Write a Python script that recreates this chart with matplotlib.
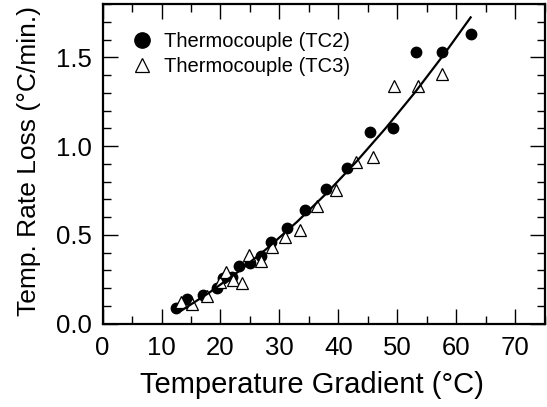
import numpy as np
import matplotlib
matplotlib.use('Agg')
import matplotlib.pyplot as plt
from matplotlib.ticker import MultipleLocator

plt.rcParams['font.family'] = ['Liberation Sans', 'DejaVu Sans']

# ==== data ====
tc2_x = [12.4, 14.4, 17.0, 19.4, 20.5, 21.9, 23.2, 25.0, 26.8, 28.5, 31.3, 34.3,
         37.8, 41.4, 45.4, 49.2, 53.1, 57.6, 62.4]
tc2_y = [0.087, 0.140, 0.159, 0.200, 0.256, 0.262, 0.322, 0.341, 0.378, 0.459, 0.539, 0.641,
         0.759, 0.877, 1.082, 1.100, 1.532, 1.532, 1.631]

tc3_x = [13.3, 15.2, 17.7, 19.9, 21.0, 22.1, 23.6, 24.9, 26.8, 28.7, 31.0, 33.4,
         36.4, 39.5, 43.0, 45.9, 49.4, 53.5, 57.6]
tc3_y = [0.121, 0.112, 0.153, 0.234, 0.290, 0.247, 0.228, 0.387, 0.350, 0.431, 0.487, 0.528,
         0.665, 0.755, 0.909, 0.937, 1.337, 1.337, 1.406]

fit_x = [13.4, 18, 23, 28, 33, 38, 43, 48, 53, 58, 62.4]
fit_y = [0.074, 0.172, 0.292, 0.426, 0.574, 0.735, 0.911, 1.101, 1.304, 1.522, 1.725]

xlabel = "Temperature Gradient (°C)"
ylabel = "Temp. Rate Loss (°C/min.)"

# ==== plot ====
fig = plt.figure(figsize=(5.47, 4.07), dpi=100)
ax = fig.add_axes([0.1874, 0.205, 0.8089, 0.785])

ax.plot(tc2_x, tc2_y, 'o', color='black', markersize=7.5, label='Thermocouple (TC2)', zorder=3)
ax.plot(tc3_x, tc3_y, '^', markerfacecolor='white', markeredgecolor='black', markeredgewidth=0.9,
        markersize=9, label='Thermocouple (TC3)', zorder=3)
ax.plot(fit_x, fit_y, '-', color='black', linewidth=1.6, zorder=4)

ax.set_xlim(0, 75)
ax.set_ylim(0, 1.8)
ax.xaxis.set_major_locator(MultipleLocator(10))
ax.xaxis.set_minor_locator(MultipleLocator(5))
ax.yaxis.set_major_locator(MultipleLocator(0.5))
ax.yaxis.set_minor_locator(MultipleLocator(0.1))
ax.yaxis.set_major_formatter(plt.FormatStrFormatter('%.1f'))
ax.set_xticks([0, 10, 20, 30, 40, 50, 60, 70])

ax.tick_params(which='both', direction='in', top=True, right=True, width=1.0, labelsize=18.5)
ax.tick_params(which='major', length=11)
ax.tick_params(which='minor', length=6)
ax.tick_params(axis='x', which='major', pad=9)
ax.tick_params(axis='y', which='major', pad=8)
for s in ax.spines.values():
    s.set_linewidth(1.6)

ax.set_xlabel(xlabel, fontsize=21)
ax.set_ylabel(ylabel, fontsize=19)
ax.xaxis.set_label_coords(0.473, -0.15)
ax.yaxis.set_label_coords(-0.14, 0.51)

leg = ax.legend(loc='upper left', frameon=False, fontsize=14.5, handletextpad=0.3,
                borderaxespad=0.0, borderpad=0.0, labelspacing=0.3, handlelength=1.6,
                bbox_to_anchor=(0.052, 0.912))
leg.legend_handles[0].set_markersize(11)
leg.legend_handles[1].set_markersize(9.5)

plt.savefig('out.png', dpi=100)
